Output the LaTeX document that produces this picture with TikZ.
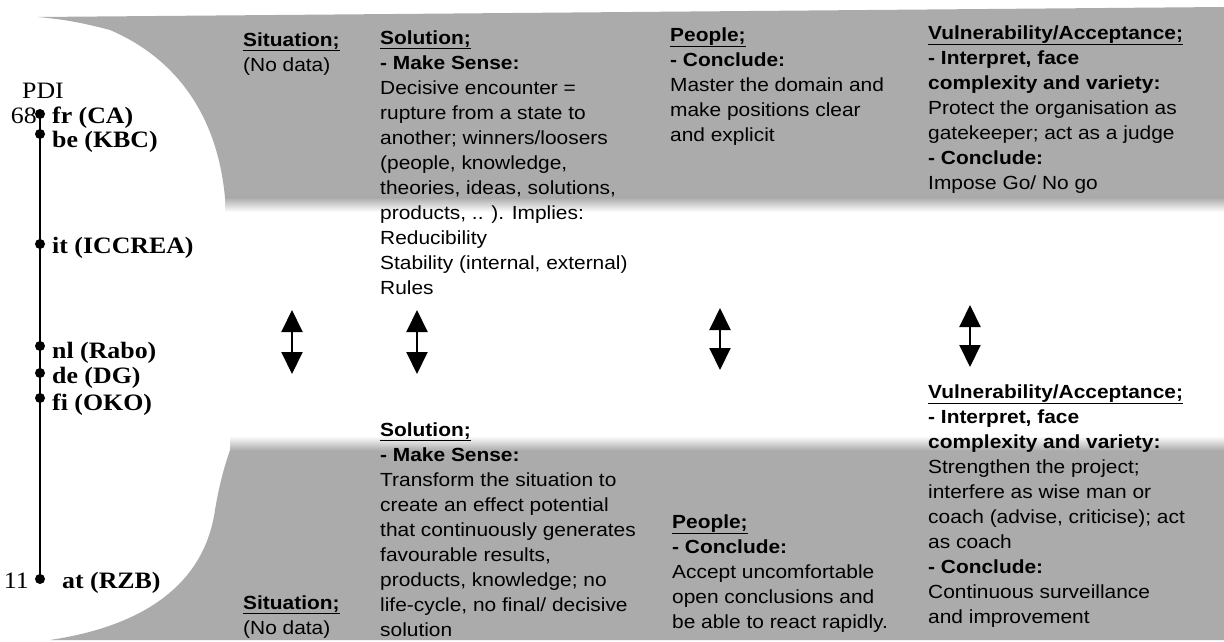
\documentclass[tikz,border=0pt]{standalone}
\usepackage{fontspec}
\setmainfont{Liberation Sans}[FakeStretch=1.1]
\newfontfamily\labelserif{Liberation Serif}[FakeStretch=1.1]
\usetikzlibrary{arrows.meta}
\newcommand\colhead[1]{\textbf{\underline{#1}}}
\definecolor{halftone}{gray}{0.67}

\begin{document}
\begin{tikzpicture}[x=1pt,y=-1pt,
  body/.style={anchor=north west, inner sep=0pt, align=left,
    font=\fontsize{19}{25}\selectfont},
  bank/.style={anchor=base west, inner sep=0pt,
    font=\labelserif\bfseries\fontsize{23.5}{26}\selectfont},
  scale label/.style={anchor=base east, inner sep=0pt,
    font=\labelserif\fontsize{23.5}{26}\selectfont},
  tick/.style={circle, fill=black, inner sep=0pt, minimum size=10pt},
  updown/.style={line width=2pt,
    {Triangle[width=21pt,length=22pt]}-{Triangle[width=21pt,length=22pt]}}]

\useasboundingbox (0,0) rectangle (1224,642);
\fill[white] (0,0) rectangle (1224,642);

% upper shaded band
\fill[halftone] (38,17) -- (1224,7) -- (1224,198) -- (225,198)
  .. controls (218,120) and (180,60) .. (110,30)
  .. controls (80,22) and (60,19) .. (38,17) -- cycle;
\shade[top color=halftone, bottom color=white] (225,197.5) rectangle (1224,212);

% lower shaded band
\fill[halftone] (230,450) -- (1224,450) -- (1224,640) -- (50,640)
  .. controls (150,625) and (205,580) .. (215,510)
  .. controls (220,480) and (226,462) .. (230,450) -- cycle;
\shade[top color=white, bottom color=halftone] (230,436) rectangle (1224,450.5);

% PDI scale
\node[anchor=base west, inner sep=0pt, font=\labelserif\fontsize{23.5}{26}\selectfont] (pdi) at (22,99) {PDI};
\node[tick] (fr) at (40,114) {};
\node[tick] (be) at (40,134) {};
\node[tick] (it) at (40,244) {};
\node[tick] (nl) at (40,346) {};
\node[tick] (de) at (40,373) {};
\node[tick] (fi) at (40,398) {};
\node[tick] (at) at (40,579) {};
\draw[line width=2pt] (fr.center) -- (at.center);
\node[scale label] (top) at (37,123) {68};
\node[scale label] (bottom) at (29,588) {11};

\node[bank] (frl) at (52,123) {fr (CA)};
\node[bank] (bel) at (52,147) {be (KBC)};
\node[bank] (itl) at (52,253) {it (ICCREA)};
\node[bank] (nll) at (52,358) {nl (Rabo)};
\node[bank] (del) at (52,383) {de (DG)};
\node[bank] (fil) at (52,410) {fi (OKO)};
\node[bank] (atl) at (62,588) {at (RZB)};

% upper row
\node[body] (sitA) at (243,28.5) {\strut\colhead{Situation;}\\(No data)};
\node[body] (solA) at (380,26.5) {\strut\colhead{Solution;}\\
  \textbf{- Make Sense:}\\
  Decisive encounter =\\
  rupture from a state to\\
  another; winners/loosers\\
  (people, knowledge,\\
  theories, ideas, solutions,\\
  products, .. ). Implies:\\
  Reducibility\\
  Stability (internal, external)\\
  Rules};
\node[body] (pplA) at (670,23.5) {\strut\colhead{People;}\\
  \textbf{- Conclude:}\\
  Master the domain and\\
  make positions clear\\
  and explicit};
\node[body] (vulA) at (928,21.5) {\strut\colhead{Vulnerability/Acceptance;}\\
  \textbf{- Interpret, face}\\
  \textbf{complexity and variety:}\\
  Protect the organisation as\\
  gatekeeper; act as a judge\\
  \textbf{- Conclude:}\\
  Impose Go/ No go};

% lower row
\node[body] (sitB) at (243,591.5) {\strut\colhead{Situation;}\\(No data)};
\node[body] (solB) at (380,418.5) {\strut\colhead{Solution;}\\
  \textbf{- Make Sense:}\\
  Transform the situation to\\
  create an effect potential\\
  that continuously generates\\
  favourable results,\\
  products, knowledge; no\\
  life-cycle, no final/ decisive\\
  solution};
\node[body] (pplB) at (672,510.5) {\strut\colhead{People;}\\
  \textbf{- Conclude:}\\
  Accept uncomfortable\\
  open conclusions and\\
  be able to react rapidly.};
\node[body] (vulB) at (928,380.5) {\strut\colhead{Vulnerability/Acceptance;}\\
  \textbf{- Interpret, face}\\
  \textbf{complexity and variety:}\\
  Strengthen the project;\\
  interfere as wise man or\\
  coach (advise, criticise); act\\
  as coach\\
  \textbf{- Conclude:}\\
  Continuous surveillance\\
  and improvement};

% two-way arrows between the rows
\coordinate (sitT) at (292,310); \coordinate (sitD) at (292,374);
\coordinate (solT) at (417,310); \coordinate (solD) at (417,374);
\coordinate (pplT) at (720,308); \coordinate (pplD) at (720,370);
\coordinate (vulT) at (970,305); \coordinate (vulD) at (970,367);
\draw[updown] (sitT) -- (sitD);
\draw[updown] (solT) -- (solD);
\draw[updown] (pplT) -- (pplD);
\draw[updown] (vulT) -- (vulD);
\end{tikzpicture}
\end{document}
